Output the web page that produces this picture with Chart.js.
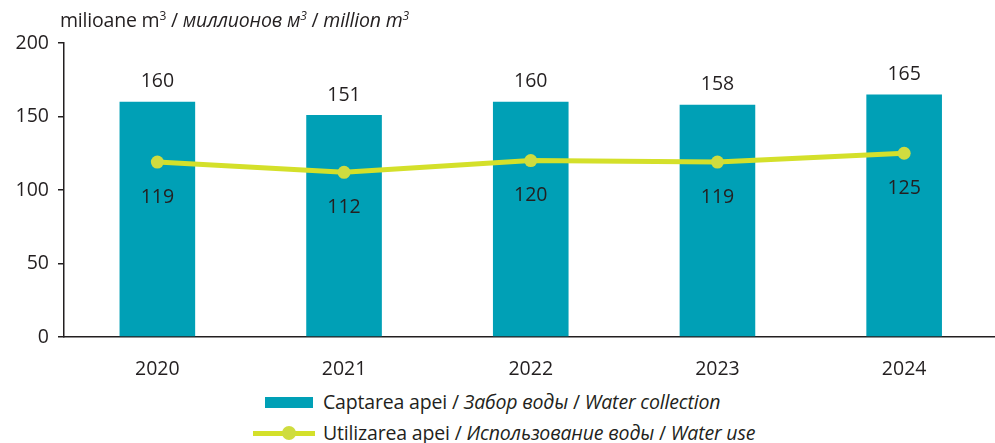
<!DOCTYPE html>
<html>
<head>
<meta charset="utf-8">
<script src="https://cdn.jsdelivr.net/npm/chart.js@4.4.1/dist/chart.umd.min.js"></script>
<style>
  html, body { margin: 0; padding: 0; background: #fff; overflow: hidden; width: 995px; height: 443px; }
  body { position: relative; font-family: "Open Sans", sans-serif; color: #231f20; }
  #wrap { position: absolute; left: 0; top: 0; width: 1004px; height: 380px; }
  #title { position: absolute; left: 60px; top: 6px; font-size: 19.5px; white-space: nowrap; letter-spacing: -0.2px; }
  #title sup { font-size: 12px; vertical-align: 7px; line-height: 0; }
  .leg { position: absolute; font-size: 19.5px; white-space: nowrap; letter-spacing: -0.17px; }
  .leg i { font-style: italic; }
  .box { position: absolute; left: 265px; width: 48px; height: 11px; background: #00a0b6; }
  .ln { position: absolute; left: 253px; width: 62px; height: 5px; background: #d4e02a; }
  .dot { position: absolute; width: 14px; height: 14px; border-radius: 50%; background: #cfdc3f; }
</style>
</head>
<body>
<div id="wrap"><canvas id="c" width="1004" height="380"></canvas></div>
<div id="title">milioane m<sup>3</sup> / <i>миллионов м<sup>3</sup></i> / <i>million m<sup>3</sup></i></div>
<div class="box" style="top:397px"></div>
<div class="leg" style="left:323px; top:388px">Captarea apei / <i>Забор воды</i> / <i>Water collection</i></div>
<div class="ln" style="top:431px"></div>
<div class="dot" style="left:282px; top:426px"></div>
<div class="leg" style="left:323px; top:419px">Utilizarea apei / <i>Использование воды</i> / <i>Water use</i></div>
<script>
const years = ["2020", "2021", "2022", "2023", "2024"];
const waterCollection = [160, 151, 160, 158, 165];
const waterUse = [119, 112, 120, 119, 125];
const yTicks = [0, 50, 100, 150, 200];

const ink = "#231f20";
const font = { family: "'Open Sans', sans-serif", size: 19.5 };

const labelPlugin = {
  id: "valueLabels",
  afterDatasetsDraw(chart) {
    const ctx = chart.ctx;
    ctx.save();
    ctx.font = "19.5px 'Open Sans', sans-serif";
    ctx.fillStyle = ink;
    ctx.textAlign = "center";
    ctx.textBaseline = "middle";
    chart.data.datasets.forEach((ds, di) => {
      const meta = chart.getDatasetMeta(di);
      meta.data.forEach((el, i) => {
        const v = ds.data[i];
        if (ds.type === "line") {
          ctx.fillText(String(v), el.x, el.y + 35);
        } else {
          ctx.fillText(String(v), el.x, el.y - 20);
        }
      });
    });
    ctx.restore();
  }
};

new Chart(document.getElementById("c"), {
  data: {
    labels: years,
    datasets: [
      {
        type: "line",
        label: "Utilizarea apei / Использование воды / Water use",
        data: waterUse,
        borderColor: "#d4e02a",
        backgroundColor: "#cfdc3f",
        pointBackgroundColor: "#cfdc3f",
        pointBorderWidth: 0,
        pointRadius: 6.5,
        borderWidth: 5,
        tension: 0,
        order: 0
      },
      {
        type: "bar",
        label: "Captarea apei / Забор воды / Water collection",
        data: waterCollection,
        backgroundColor: "#00a0b6",
        borderWidth: 0,
        categoryPercentage: 1,
        barPercentage: 0.405,
        order: 1
      }
    ]
  },
  options: {
    responsive: false,
    animation: false,
    layout: { padding: { top: 43, right: 0, left: 0, bottom: 0 } },
    plugins: { legend: { display: false }, tooltip: { enabled: false }, title: { display: false } },
    scales: {
      x: {
        grid: { display: false },
        border: { display: true, color: ink, width: 1.5 },
        ticks: { color: ink, font: font, padding: 13 },
        afterFit(s) { s.height = 43; }
      },
      y: {
        min: 0, max: 200,
        afterBuildTicks(s) { s.ticks = yTicks.map(v => ({ value: v })); },
        grid: { drawOnChartArea: false, drawTicks: true, tickLength: 6, color: ink, lineWidth: 1.5 },
        border: { display: true, color: ink, width: 1.5 },
        ticks: { color: ink, font: font, padding: 9 },
        afterFit(s) { s.width = 64; }
      }
    }
  },
  plugins: [labelPlugin]
});
</script>
</body>
</html>
